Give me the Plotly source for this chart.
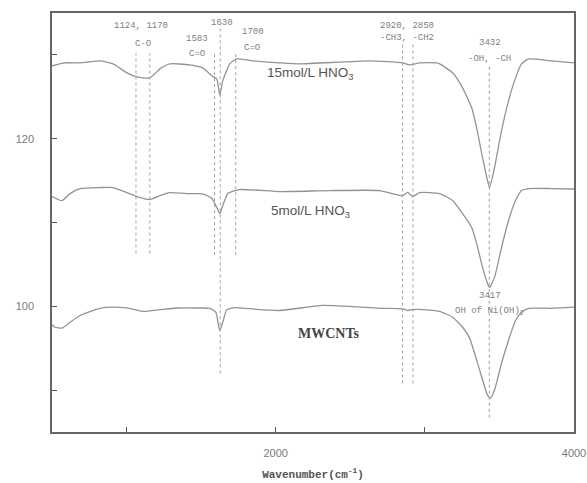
import plotly.graph_objects as go

# ---- data ----
wn_mwcnt = [500, 520, 567, 621, 688, 822, 909, 1002, 1110, 1223, 1337, 1491, 1558, 1598, 1625, 1645,
            1672, 1726, 1759, 2027, 2315, 2697, 2851, 2885, 2918, 2965, 3099, 3186, 3253, 3300, 3347,
            3387, 3420, 3440, 3467, 3514, 3561, 3608, 3648, 3695, 3849, 4000]
t_mwcnt = [97.8, 97.5, 97.4, 98.1, 98.9, 99.76, 99.9, 99.8, 99.4, 99.6, 99.8, 99.8, 99.75, 99.3, 97.1, 98.1,
           99.6, 99.85, 99.8, 99.5, 100.1, 99.76, 99.7, 99.5, 99.6, 99.64, 99.4, 98.7, 97.5, 96.2, 93.6,
           91.2, 89.4, 89.05, 90.0, 93.2, 95.95, 98.3, 99.3, 99.76, 99.76, 99.9]

wn_5m = [500, 567, 621, 688, 822, 909, 1002, 1069, 1156, 1223, 1290, 1404, 1491, 1525, 1572, 1605, 1625,
         1645, 1679, 1759, 2027, 2362, 2697, 2851, 2885, 2918, 2965, 3099, 3186, 3253, 3314, 3347, 3387,
         3420, 3434, 3467, 3514, 3561, 3608, 3648, 3695, 3849, 4000]
t_5m = [113.1, 112.6, 113.45, 114.05, 114.17, 114.17, 113.57, 113.1, 112.74, 113.21, 113.57, 113.45, 113.45,
        113.33, 112.86, 111.79, 111.07, 112.02, 113.45, 113.93, 113.69, 113.81, 113.81, 113.2, 113.6, 113.1,
        113.57, 113.45, 112.62, 111.07, 109.4, 107.5, 104.64, 102.74, 102.26, 103.45, 107.02, 110.24,
        112.62, 113.81, 114.05, 114.05, 114.0]

wn_15m = [500, 587, 688, 822, 909, 1002, 1069, 1156, 1223, 1290, 1424, 1511, 1572, 1605, 1625, 1645, 1692,
          1739, 1846, 2027, 2161, 2630, 2851, 2898, 2965, 3079, 3099, 3186, 3253, 3314, 3347, 3387, 3420,
          3434, 3467, 3514, 3561, 3608, 3648, 3695, 3849, 4000]
t_15m = [128.7, 129.05, 129.05, 129.29, 128.93, 127.86, 127.38, 127.26, 128.33, 128.93, 128.81, 128.45, 127.5,
         127.14, 125.2, 126.9, 128.93, 129.52, 129.29, 129.05, 128.93, 129.29, 129.05, 128.81, 129.05,
         129.05, 128.93, 127.86, 126.07, 123.69, 121.31, 117.74, 115.0, 114.17, 116.55, 120.95, 124.52,
         127.26, 128.93, 129.52, 129.29, 129.05]

# marker lines: position, bottom, top
mark_x = [1063, 1156, 1590, 1628, 1732, 2850, 2920, 3432]
mark_y0 = [106.3, 106.3, 106.1, 92.0, 106.1, 90.8, 90.8, 86.7]
mark_y1 = [130.2, 130.2, 130.2, 133.4, 130.2, 131.4, 131.4, 128.7]

# peak labels: text, x, y
peak_text = ["1124, 1170", "C-O", "1583", "C=O", "1630", "1700", "C=O",
             "2920, 2850", "-CH3, -CH2", "3432", "-OH, -CH", "3417", "OH of Ni(OH)<sub>2</sub>"]
peak_x = [1096, 1110, 1471, 1471, 1639, 1846, 1840, 2878, 2878, 3434, 3434, 3434, 3434]
peak_y = [133.4, 131.3, 131.9, 130.1, 133.8, 132.7, 130.8, 133.4, 132.0, 131.4, 129.5, 101.2, 99.4]

series_names = ["15mol/L HNO<sub>3</sub>", "5mol/L HNO<sub>3</sub>", "MWCNTs"]
series_lx = [2230, 2230, 2355]
series_ly = [127.8, 111.3, 96.8]

x_range = [500, 4000]
y_range = [85, 135]

fig = go.Figure()
line_col = "#939393"
for wn, t in [(wn_15m, t_15m), (wn_5m, t_5m), (wn_mwcnt, t_mwcnt)]:
    fig.add_trace(go.Scatter(x=wn, y=t, mode="lines",
                             line=dict(color=line_col, width=1.3, shape="spline", smoothing=0.5),
                             showlegend=False, hoverinfo="skip"))

for xv, a, b in zip(mark_x, mark_y0, mark_y1):
    fig.add_shape(type="line", x0=xv, x1=xv, y0=a, y1=b, xref="x", yref="y",
                  line=dict(color="#a0a0a0", width=1, dash="dot"))

for s, xv, yv in zip(peak_text, peak_x, peak_y):
    fig.add_annotation(x=xv, y=yv, text=s, showarrow=False, xanchor="center", yanchor="middle",
                       font=dict(family="Liberation Mono", size=9, color="#808080"))

for i, (s, xv, yv) in enumerate(zip(series_names, series_lx, series_ly)):
    if i == 2:
        f = dict(family="Liberation Serif", size=14, color="#444444", weight="bold")
    else:
        f = dict(family="Liberation Sans", size=13.5, color="#555555")
    fig.add_annotation(x=xv, y=yv, text=s, showarrow=False, xanchor="center", yanchor="middle", font=f)

fig.update_layout(
    width=587, height=483,
    margin=dict(l=52, r=13, t=13, b=51),
    paper_bgcolor="white", plot_bgcolor="white",
    showlegend=False,
)
fig.update_xaxes(range=x_range, tickvals=[2000, 4000], ticktext=["2000", "4000"], automargin=False,
                 ticks="inside", ticklen=5, tickcolor="#555",
                 minor=dict(tickvals=[1000, 3000], ticks="inside", ticklen=5, tickcolor="#555"),
                 showline=True, linecolor="#666", linewidth=1.5, mirror=True,
                 showgrid=False, zeroline=False, ticklabelstandoff=10,
                 tickfont=dict(family="Liberation Sans", size=11, color="#7a7a7a"),
                 title=dict(text="<b>Wavenumber(cm<sup>-1</sup>)</b>", standoff=12,
                            font=dict(family="Liberation Mono", size=11, color="#555555")))
fig.update_yaxes(range=y_range, tickvals=[100, 120], ticktext=["100", "120"], automargin=False,
                 ticks="inside", ticklen=5, tickcolor="#555",
                 minor=dict(tickvals=[90, 110, 130], ticks="inside", ticklen=5, tickcolor="#555"),
                 showline=True, linecolor="#666", linewidth=1.5, mirror=True,
                 showgrid=False, zeroline=False, ticklabelstandoff=14,
                 tickfont=dict(family="Liberation Sans", size=11, color="#7a7a7a"))

fig.write_html("out.html")
